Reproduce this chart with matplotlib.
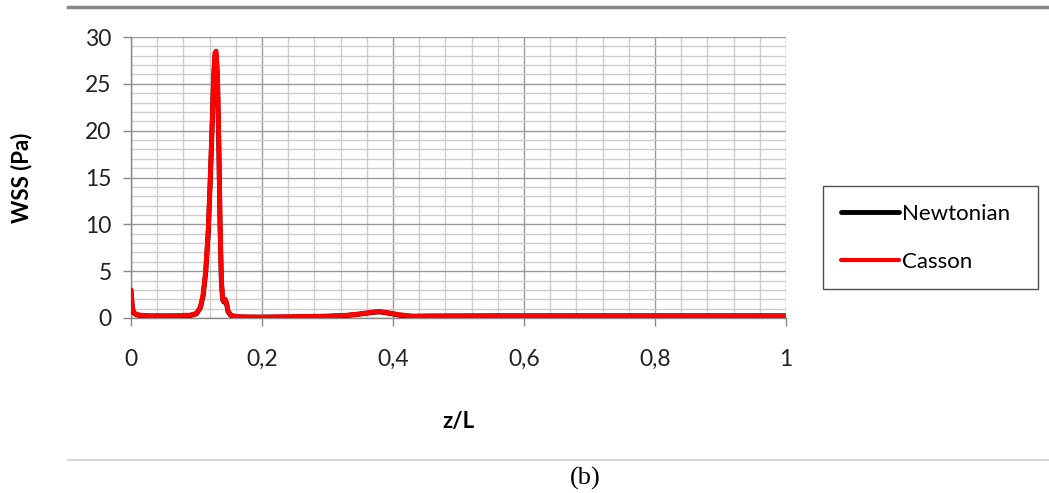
import numpy as np
import matplotlib
matplotlib.use('Agg')
import matplotlib.pyplot as plt
from matplotlib.ticker import MultipleLocator, FuncFormatter

# Wall shear stress along the normalised axial coordinate
z_casson = [0.0, 0.002, 0.004, 0.008, 0.015, 0.03, 0.06, 0.09, 0.100, 0.106,
            0.110, 0.114, 0.118, 0.121, 0.124, 0.126, 0.128, 0.130, 0.132,
            0.134, 0.136, 0.138, 0.140, 0.142, 0.144, 0.146, 0.148, 0.152,
            0.158, 0.17, 0.20, 0.25, 0.30, 0.33, 0.35, 0.37, 0.38, 0.39,
            0.41, 0.43, 0.46, 0.55, 0.70, 0.85, 1.0]
wss_casson = [3.0, 1.2, 0.6, 0.4, 0.3, 0.25, 0.25, 0.3, 0.5, 1.2,
              2.5, 5.0, 9.5, 15.0, 21.0, 25.5, 28.3, 28.5, 26.0,
              19.0, 10.0, 4.0, 2.0, 1.8, 2.0, 1.6, 0.8, 0.35,
              0.2, 0.12, 0.1, 0.15, 0.2, 0.3, 0.45, 0.65, 0.7, 0.6,
              0.35, 0.2, 0.22, 0.25, 0.25, 0.25, 0.25]

z_newton = z_casson
wss_newton = [2.9, 1.1, 0.55, 0.35, 0.25, 0.2, 0.2, 0.25, 0.45, 1.1,
              2.3, 4.8, 9.2, 14.6, 20.6, 25.1, 27.9, 28.1, 25.6,
              18.6, 9.7, 3.8, 1.9, 1.7, 1.9, 1.5, 0.7, 0.3,
              0.15, 0.1, 0.08, 0.12, 0.18, 0.27, 0.42, 0.6, 0.65, 0.55,
              0.3, 0.17, 0.2, 0.22, 0.22, 0.22, 0.22]

x_ticks = [0, 0.2, 0.4, 0.6, 0.8, 1.0]
y_ticks = [0, 5, 10, 15, 20, 25, 30]

plt.rcParams['font.family'] = ['Lato', 'DejaVu Sans']

fig = plt.figure(figsize=(10.49, 4.93), dpi=100)
ax = fig.add_axes([131 / 1049, 1 - 318 / 493, (786 - 131) / 1049, (318 - 37) / 493])

ax.plot(z_newton, wss_newton, color='black', lw=3.5, solid_capstyle='round', zorder=3,
        label='Newtonian')
ax.plot(z_casson, wss_casson, color='#ff0000', lw=3.5, solid_capstyle='round', zorder=4,
        label='Casson')

ax.set_xlim(0, 1)
ax.set_ylim(0, 30)
ax.set_xticks(x_ticks)
ax.set_yticks(y_ticks)
ax.xaxis.set_minor_locator(MultipleLocator(0.04))
ax.yaxis.set_minor_locator(MultipleLocator(1))
ax.xaxis.set_major_formatter(FuncFormatter(lambda v, p: ('%g' % v).replace('.', ',')))

ax.grid(which='major', color='#9a9a9a', lw=1.0)
ax.grid(which='minor', color='#cccccc', lw=1.0)
ax.set_axisbelow(True)

for side in ['top', 'right']:
    ax.spines[side].set_visible(False)
for side in ['left', 'bottom']:
    ax.spines[side].set_color('#888888')
    ax.spines[side].set_linewidth(1.0)

ax.tick_params(which='major', length=6, width=1, color='#888888', labelsize=16.5,
               labelcolor='#222222')
ax.tick_params(axis='y', pad=8)
ax.tick_params(axis='x', pad=16)
ax.tick_params(which='minor', length=0)

ax.set_xlabel('z/L', fontsize=16, fontweight='bold', labelpad=30)
ax.set_ylabel('WSS (Pa)', fontsize=16, fontweight='bold', labelpad=38)

leg = ax.legend(loc='upper left',
                bbox_to_anchor=(823 / 1049, 1 - 282 / 493, (1038 - 823) / 1049, (282 - 186) / 493),
                bbox_transform=fig.transFigure, mode='expand', frameon=True, fancybox=False,
                fontsize=16, handlelength=2.6, handletextpad=0.15, labelspacing=1.25,
                borderpad=0.8, borderaxespad=0)
leg.get_frame().set_edgecolor('#222222')
leg.get_frame().set_linewidth(1.0)
leg.legend_handles[1].set_linewidth(3.0)

# page rules and caption
fig.add_artist(plt.Line2D([68 / 1049, 1], [1 - 7 / 493] * 2, color='#888888', lw=2.5))
fig.add_artist(plt.Line2D([68 / 1049, 1], [1 - 460 / 493] * 2, color='#d0d0d0', lw=1.2))
fig.text(585 / 1049, 1 - 478 / 493, '(b)', ha='center', va='center', fontsize=19,
         family='Liberation Serif')

fig.savefig('out.png', dpi=100, facecolor='white')
